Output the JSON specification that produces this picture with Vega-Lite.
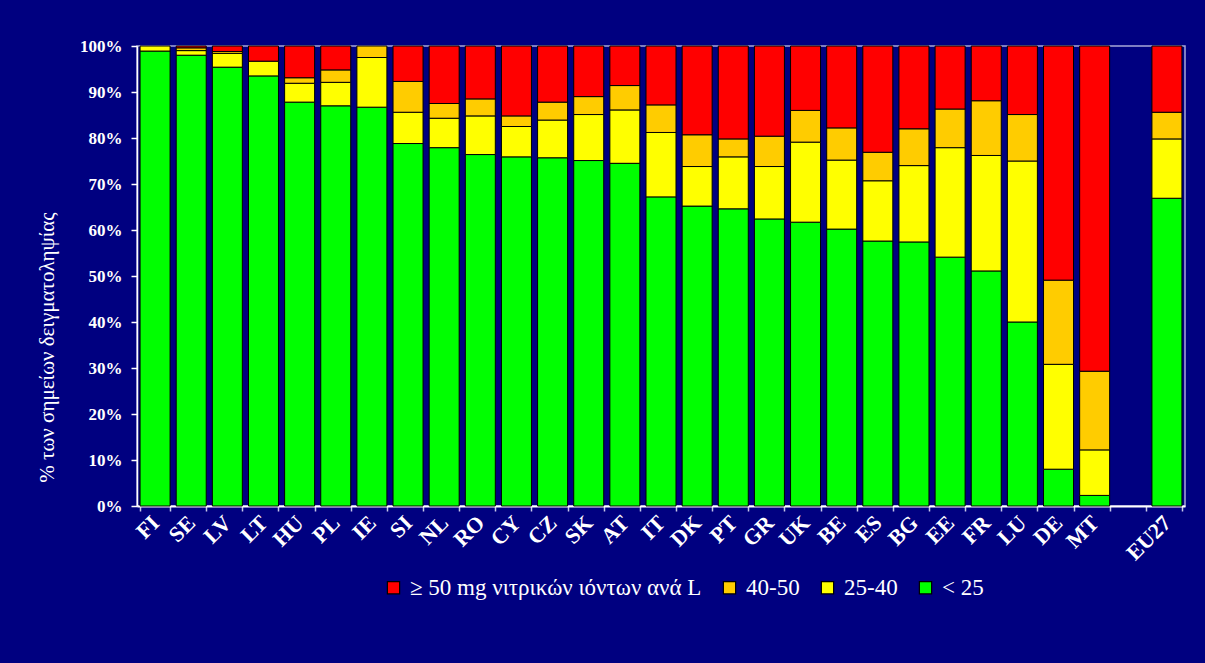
{
  "$schema": "https://vega.github.io/schema/vega-lite/v6.json",
  "autosize": {"type": "none"},
  "width": 1048,
  "height": 460,
  "padding": {"left": 137, "top": 46, "right": 20, "bottom": 157},
  "background": "#000080",
  "config": {
    "view": {"stroke": "#a8a8d8", "strokeWidth": 1.5},
    "font": "Liberation Serif"
  },
  "data": {"values": [
    {"country": "FI", "cls": "< 25", "pct": 98.9}, {"country": "FI", "cls": "25-40", "pct": 1.1},
    {"country": "SE", "cls": "< 25", "pct": 98.0}, {"country": "SE", "cls": "25-40", "pct": 1.0}, {"country": "SE", "cls": "40-50", "pct": 0.6}, {"country": "SE", "cls": "≥ 50 mg νιτρικών ιόντων ανά L", "pct": 0.4},
    {"country": "LV", "cls": "< 25", "pct": 95.4}, {"country": "LV", "cls": "25-40", "pct": 3.0}, {"country": "LV", "cls": "40-50", "pct": 0.4}, {"country": "LV", "cls": "≥ 50 mg νιτρικών ιόντων ανά L", "pct": 1.2},
    {"country": "LT", "cls": "< 25", "pct": 93.5}, {"country": "LT", "cls": "25-40", "pct": 3.2}, {"country": "LT", "cls": "≥ 50 mg νιτρικών ιόντων ανά L", "pct": 3.3},
    {"country": "HU", "cls": "< 25", "pct": 87.8}, {"country": "HU", "cls": "25-40", "pct": 4.1}, {"country": "HU", "cls": "40-50", "pct": 1.2}, {"country": "HU", "cls": "≥ 50 mg νιτρικών ιόντων ανά L", "pct": 6.9},
    {"country": "PL", "cls": "< 25", "pct": 87.0}, {"country": "PL", "cls": "25-40", "pct": 5.1}, {"country": "PL", "cls": "40-50", "pct": 2.7}, {"country": "PL", "cls": "≥ 50 mg νιτρικών ιόντων ανά L", "pct": 5.2},
    {"country": "IE", "cls": "< 25", "pct": 86.7}, {"country": "IE", "cls": "25-40", "pct": 10.8}, {"country": "IE", "cls": "40-50", "pct": 2.5},
    {"country": "SI", "cls": "< 25", "pct": 78.8}, {"country": "SI", "cls": "25-40", "pct": 6.8}, {"country": "SI", "cls": "40-50", "pct": 6.7}, {"country": "SI", "cls": "≥ 50 mg νιτρικών ιόντων ανά L", "pct": 7.7},
    {"country": "NL", "cls": "< 25", "pct": 77.9}, {"country": "NL", "cls": "25-40", "pct": 6.4}, {"country": "NL", "cls": "40-50", "pct": 3.2}, {"country": "NL", "cls": "≥ 50 mg νιτρικών ιόντων ανά L", "pct": 12.5},
    {"country": "RO", "cls": "< 25", "pct": 76.4}, {"country": "RO", "cls": "25-40", "pct": 8.4}, {"country": "RO", "cls": "40-50", "pct": 3.7}, {"country": "RO", "cls": "≥ 50 mg νιτρικών ιόντων ανά L", "pct": 11.5},
    {"country": "CY", "cls": "< 25", "pct": 75.9}, {"country": "CY", "cls": "25-40", "pct": 6.6}, {"country": "CY", "cls": "40-50", "pct": 2.3}, {"country": "CY", "cls": "≥ 50 mg νιτρικών ιόντων ανά L", "pct": 15.2},
    {"country": "CZ", "cls": "< 25", "pct": 75.7}, {"country": "CZ", "cls": "25-40", "pct": 8.2}, {"country": "CZ", "cls": "40-50", "pct": 3.9}, {"country": "CZ", "cls": "≥ 50 mg νιτρικών ιόντων ανά L", "pct": 12.2},
    {"country": "SK", "cls": "< 25", "pct": 75.1}, {"country": "SK", "cls": "25-40", "pct": 10.0}, {"country": "SK", "cls": "40-50", "pct": 3.9}, {"country": "SK", "cls": "≥ 50 mg νιτρικών ιόντων ανά L", "pct": 11.0},
    {"country": "AT", "cls": "< 25", "pct": 74.5}, {"country": "AT", "cls": "25-40", "pct": 11.6}, {"country": "AT", "cls": "40-50", "pct": 5.3}, {"country": "AT", "cls": "≥ 50 mg νιτρικών ιόντων ανά L", "pct": 8.6},
    {"country": "IT", "cls": "< 25", "pct": 67.2}, {"country": "IT", "cls": "25-40", "pct": 14.0}, {"country": "IT", "cls": "40-50", "pct": 6.0}, {"country": "IT", "cls": "≥ 50 mg νιτρικών ιόντων ανά L", "pct": 12.8},
    {"country": "DK", "cls": "< 25", "pct": 65.2}, {"country": "DK", "cls": "25-40", "pct": 8.6}, {"country": "DK", "cls": "40-50", "pct": 6.9}, {"country": "DK", "cls": "≥ 50 mg νιτρικών ιόντων ανά L", "pct": 19.3},
    {"country": "PT", "cls": "< 25", "pct": 64.6}, {"country": "PT", "cls": "25-40", "pct": 11.3}, {"country": "PT", "cls": "40-50", "pct": 3.9}, {"country": "PT", "cls": "≥ 50 mg νιτρικών ιόντων ανά L", "pct": 20.2},
    {"country": "GR", "cls": "< 25", "pct": 62.4}, {"country": "GR", "cls": "25-40", "pct": 11.4}, {"country": "GR", "cls": "40-50", "pct": 6.6}, {"country": "GR", "cls": "≥ 50 mg νιτρικών ιόντων ανά L", "pct": 19.6},
    {"country": "UK", "cls": "< 25", "pct": 61.7}, {"country": "UK", "cls": "25-40", "pct": 17.4}, {"country": "UK", "cls": "40-50", "pct": 6.9}, {"country": "UK", "cls": "≥ 50 mg νιτρικών ιόντων ανά L", "pct": 14.0},
    {"country": "BE", "cls": "< 25", "pct": 60.2}, {"country": "BE", "cls": "25-40", "pct": 15.0}, {"country": "BE", "cls": "40-50", "pct": 7.0}, {"country": "BE", "cls": "≥ 50 mg νιτρικών ιόντων ανά L", "pct": 17.8},
    {"country": "ES", "cls": "< 25", "pct": 57.6}, {"country": "ES", "cls": "25-40", "pct": 13.1}, {"country": "ES", "cls": "40-50", "pct": 6.2}, {"country": "ES", "cls": "≥ 50 mg νιτρικών ιόντων ανά L", "pct": 23.1},
    {"country": "BG", "cls": "< 25", "pct": 57.4}, {"country": "BG", "cls": "25-40", "pct": 16.6}, {"country": "BG", "cls": "40-50", "pct": 8.0}, {"country": "BG", "cls": "≥ 50 mg νιτρικών ιόντων ανά L", "pct": 18.0},
    {"country": "EE", "cls": "< 25", "pct": 54.1}, {"country": "EE", "cls": "25-40", "pct": 23.8}, {"country": "EE", "cls": "40-50", "pct": 8.4}, {"country": "EE", "cls": "≥ 50 mg νιτρικών ιόντων ανά L", "pct": 13.7},
    {"country": "FR", "cls": "< 25", "pct": 51.1}, {"country": "FR", "cls": "25-40", "pct": 25.1}, {"country": "FR", "cls": "40-50", "pct": 11.9}, {"country": "FR", "cls": "≥ 50 mg νιτρικών ιόντων ανά L", "pct": 11.9},
    {"country": "LU", "cls": "< 25", "pct": 40.0}, {"country": "LU", "cls": "25-40", "pct": 35.0}, {"country": "LU", "cls": "40-50", "pct": 10.1}, {"country": "LU", "cls": "≥ 50 mg νιτρικών ιόντων ανά L", "pct": 14.9},
    {"country": "DE", "cls": "< 25", "pct": 8.0}, {"country": "DE", "cls": "25-40", "pct": 22.8}, {"country": "DE", "cls": "40-50", "pct": 18.3}, {"country": "DE", "cls": "≥ 50 mg νιτρικών ιόντων ανά L", "pct": 50.9},
    {"country": "MT", "cls": "< 25", "pct": 2.3}, {"country": "MT", "cls": "25-40", "pct": 9.9}, {"country": "MT", "cls": "40-50", "pct": 17.1}, {"country": "MT", "cls": "≥ 50 mg νιτρικών ιόντων ανά L", "pct": 70.7},
    {"country": "EU27", "cls": "< 25", "pct": 66.9}, {"country": "EU27", "cls": "25-40", "pct": 12.9}, {"country": "EU27", "cls": "40-50", "pct": 5.8}, {"country": "EU27", "cls": "≥ 50 mg νιτρικών ιόντων ανά L", "pct": 14.4}
  ]},
  "transform": [
    {"calculate": "indexof(['< 25', '25-40', '40-50', '≥ 50 mg νιτρικών ιόντων ανά L'], datum.cls)", "as": "stackRank"}
  ],
  "mark": {"type": "bar", "stroke": "#000000", "strokeWidth": 1},
  "encoding": {
    "x": {
      "field": "country", "type": "nominal",
      "scale": {
        "domain": ["FI","SE","LV","LT","HU","PL","IE","SI","NL","RO","CY","CZ","SK","AT","IT","DK","PT","GR","UK","BE","ES","BG","EE","FR","LU","DE","MT"," ","EU27"],
        "paddingInner": 0.17, "paddingOuter": 0.085
      },
      "axis": {
        "title": null,
        "labelAngle": -45, "labelAlign": "right", "labelBaseline": "middle",
        "labelColor": "#ffffff", "labelFont": "Liberation Serif", "labelFontWeight": "bold", "labelFontSize": 22,
        "labelPadding": 8,
        "domainColor": "#ffffff", "domainWidth": 2,
        "tickBand": "extent", "tickColor": "#c8c8e8", "tickSize": 5, "tickWidth": 1.5
      }
    },
    "y": {
      "field": "pct", "type": "quantitative", "stack": "zero",
      "scale": {"domain": [0, 100], "nice": false},
      "axis": {
        "title": "% των σημείων δειγματοληψίας",
        "titleColor": "#ffffff", "titleFont": "Liberation Serif", "titleFontWeight": "normal", "titleFontSize": 21,
        "titleX": -90, "titleY": 301, "titleBaseline": "middle", "titleAlign": "center",
        "values": [0,10,20,30,40,50,60,70,80,90,100],
        "labelExpr": "datum.value + '%'",
        "labelColor": "#ffffff", "labelFont": "Liberation Serif", "labelFontWeight": "bold", "labelFontSize": 17,
        "labelPadding": 9,
        "domainColor": "#ffffff", "domainWidth": 1.5,
        "tickColor": "#ffffff", "tickSize": 6, "tickWidth": 1.5,
        "grid": false
      }
    },
    "order": {"field": "stackRank", "type": "quantitative", "sort": "ascending"},
    "color": {
      "field": "cls", "type": "nominal",
      "scale": {
        "domain": ["< 25", "25-40", "40-50", "≥ 50 mg νιτρικών ιόντων ανά L"],
        "range": ["#00ff00", "#ffff00", "#ffcc00", "#ff0000"]
      },
      "legend": {
        "title": null,
        "orient": "none", "direction": "horizontal",
        "legendX": 245, "legendY": 530,
        "values": ["≥ 50 mg νιτρικών ιόντων ανά L", "40-50", "25-40", "< 25"],
        "symbolType": "square", "symbolSize": 150, "symbolStrokeColor": "#000000", "symbolStrokeWidth": 1.2, "symbolOpacity": 1,
        "labelColor": "#ffffff", "labelFont": "Liberation Serif", "labelFontSize": 23, "labelLimit": 400,
        "labelOffset": 5, "columnPadding": 16
      }
    }
  }
}
